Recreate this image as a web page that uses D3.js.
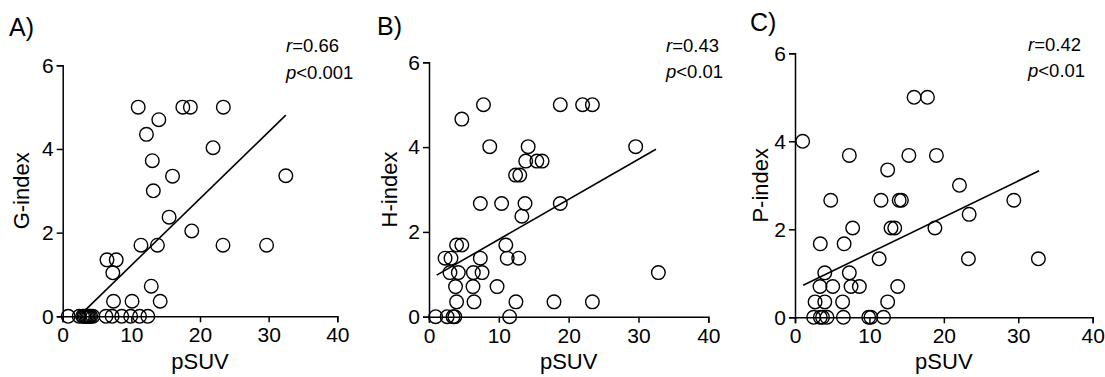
<!DOCTYPE html>
<html><head><meta charset="utf-8">
<script src="https://cdn.jsdelivr.net/npm/d3@7"></script>
<style>
html,body{margin:0;padding:0;background:#fff;}
svg{display:block;font-family:"Liberation Sans",Arial,sans-serif;}
</style></head>
<body><svg id="c" width="1105" height="377"></svg>
<script>
// ---- data ----
const xTicks = [0, 10, 20, 30, 40];
const yTicks = [0, 2, 4, 6];
const panelLabels = ["A)", "B)", "C)"];
const yTitles = ["G-index", "H-index", "P-index"];
const xTitle = "pSUV";
const rValues = ["0.66", "0.43", "0.42"];
const pValues = ["<0.001", "<0.01", "<0.01"];

const gX = [11.0,17.5,18.6,23.4,14.0,12.2,21.9,13.05,16.0,32.5,13.2,15.5,18.8,11.4,13.8,23.35,29.7,6.45,7.8,7.3,12.9,7.4,10.1,14.2,
            0.8,2.4,2.9,3.1,3.3,3.5,3.7,3.9,4.1,4.4,6.3,7.2,8.6,9.9,11.2,12.4];
const gY = [5.0,5.0,5.0,5.0,4.7,4.35,4.03,3.72,3.35,3.36,3.0,2.37,2.04,1.7,1.7,1.7,1.7,1.35,1.35,1.04,0.72,0.36,0.36,0.36,
            0,0,0,0,0,0,0,0,0,0,0,0,0,0,0,0];

const hX = [7.8,18.8,22.0,23.4,4.7,8.7,14.2,29.6,13.85,15.45,16.2,12.4,13.0,7.35,10.4,13.75,18.8,13.3,3.95,4.7,11.0,2.3,3.15,7.35,11.2,12.85,
            3.0,4.2,6.35,7.6,32.85,3.8,6.3,9.75,3.95,6.45,12.45,17.9,23.4,0.95,2.6,3.45,3.7,11.55];
const hY = [5.0,5.0,5.0,5.0,4.66,4.01,4.01,4.01,3.67,3.67,3.67,3.34,3.34,2.67,2.67,2.67,2.67,2.37,1.69,1.69,1.69,1.38,1.38,1.38,1.38,1.38,
            1.04,1.04,1.04,1.04,1.04,0.71,0.71,0.71,0.35,0.35,0.35,0.35,0.35,0,0,0,0,0];

const pX = [16.0,17.8,1.03,7.3,15.3,19.0,12.45,22.1,4.8,11.56,14.0,14.3,29.4,23.4,7.75,12.9,13.4,18.8,3.4,6.6,11.3,23.3,32.7,4.0,7.3,
            3.36,5.07,7.53,8.65,13.8,2.7,4.0,6.4,12.45,2.5,3.4,3.7,4.3,6.5,9.9,10.2,11.9];
const pY = [5.0,5.0,4.0,3.68,3.68,3.68,3.35,3.0,2.66,2.66,2.66,2.66,2.66,2.34,2.03,2.03,2.03,2.03,1.67,1.67,1.33,1.33,1.33,1.01,1.01,
            0.70,0.70,0.70,0.70,0.70,0.35,0.35,0.35,0.35,0,0,0,0,0,0,0,0];

// fitted regression line endpoints
const fitA = [[2.8, 0.07], [32.5, 4.81]];
const fitB = [[1.1, 0.98], [32.5, 3.95]];
const fitC = [[1.1, 0.73], [32.8, 3.33]];

const series = [
  {xs: gX, ys: gY, fit: fitA},
  {xs: hX, ys: hY, fit: fitB},
  {xs: pX, ys: pY, fit: fitC}
];

// ---- layout ----
const layout = [
  {x0: 62.7, x1: 337.3, y0: 316.3, y1: 65.3, lab: [9, 36], ytx: 29, rp: [286, 52, 79]},
  {x0: 429, x1: 708.3, y0: 316.7, y1: 62.3, lab: [377, 35], ytx: 397, rp: [666, 52, 78]},
  {x0: 795, x1: 1092.7, y0: 317.3, y1: 53.3, lab: [750, 31], ytx: 768, rp: [1028, 51, 77]}
];

const svg = d3.select("#c");

series.forEach((s, i) => {
  const L = layout[i];
  const x = d3.scaleLinear().domain([0, 40]).range([L.x0, L.x1]);
  const y = d3.scaleLinear().domain([0, 6]).range([L.y0, L.y1]);
  const g = svg.append("g");

  const xa = g.append("g").attr("transform", `translate(0,${L.y0})`)
    .call(d3.axisBottom(x).tickValues(xTicks).tickSize(6).tickPadding(5).tickFormat(d3.format("d")));
  const ya = g.append("g").attr("transform", `translate(${L.x0},0)`)
    .call(d3.axisLeft(y).tickValues(yTicks).tickSize(6).tickPadding(3).tickFormat(d3.format("d")));
  [xa, ya].forEach(a => {
    a.select(".domain").attr("stroke", "#000").attr("stroke-width", 1.5);
    a.selectAll(".tick line").attr("stroke", "#000").attr("stroke-width", 1.5);
    a.selectAll(".tick text").attr("fill", "#000").style("font-size", "21px")
      .style("font-family", '"Liberation Sans",Arial,sans-serif');
  });

  // points
  g.append("g").selectAll("circle").data(s.xs.map((v, k) => [v, s.ys[k]]))
    .join("circle")
    .attr("cx", d => x(d[0])).attr("cy", d => y(d[1])).attr("r", 6.8)
    .attr("fill", "none").attr("stroke", "#000").attr("stroke-width", 1.4);

  // regression line
  g.append("path").datum(s.fit)
    .attr("d", d3.line().x(d => x(d[0])).y(d => y(d[1])))
    .attr("stroke", "#000").attr("stroke-width", 1.6).attr("fill", "none");

  // titles
  g.append("text").attr("x", (L.x0 + L.x1) / 2).attr("y", 369)
    .attr("text-anchor", "middle").style("font-size", "22px").text(xTitle);
  g.append("text").attr("transform", `translate(${L.ytx},${(L.y0 + L.y1) / 2}) rotate(-90)`)
    .attr("text-anchor", "middle").style("font-size", "22px").text(yTitles[i]);
  g.append("text").attr("x", L.lab[0]).attr("y", L.lab[1])
    .style("font-size", "25px").text(panelLabels[i]);

  const t1 = g.append("text").attr("x", L.rp[0]).attr("y", L.rp[1]).style("font-size", "18.5px");
  t1.append("tspan").style("font-style", "italic").text("r");
  t1.append("tspan").text("=" + rValues[i]);
  const t2 = g.append("text").attr("x", L.rp[0]).attr("y", L.rp[2]).style("font-size", "18.5px");
  t2.append("tspan").style("font-style", "italic").text("p");
  t2.append("tspan").text(pValues[i]);
});
</script></body></html>
